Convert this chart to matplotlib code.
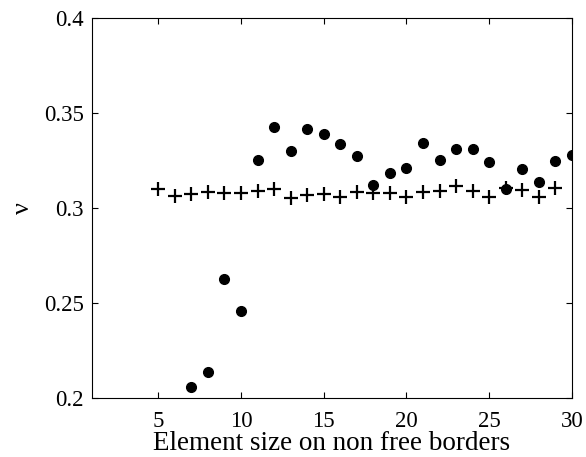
import matplotlib
matplotlib.use("Agg")
import matplotlib.pyplot as plt

plt.rcParams['font.family'] = ['Liberation Serif', 'DejaVu Serif']

cross_x = list(range(5, 30))
cross_y = [0.3098, 0.3065, 0.3072, 0.3084, 0.3077, 0.3077, 0.3088, 0.3098, 0.3051,
           0.3068, 0.3075, 0.3060, 0.3086, 0.3077, 0.3079, 0.3060, 0.3084, 0.3091,
           0.3114, 0.3091, 0.3060, 0.3105, 0.3095, 0.3060, 0.3105]
dot_x = list(range(7, 31))
dot_y = [0.2058, 0.2135, 0.2625, 0.2458, 0.3254, 0.3425, 0.3298, 0.3417, 0.3389,
         0.3335, 0.3274, 0.3123, 0.3184, 0.3212, 0.3340, 0.3254, 0.3309, 0.3309,
         0.3244, 0.3100, 0.3205, 0.3135, 0.3249, 0.3281]
x_ticks = [5, 10, 15, 20, 25, 30]
y_ticks = [0.2, 0.25, 0.3, 0.35, 0.4]
y_tick_labels = ['0.2', '0.25', '0.3', '0.35', '0.4']

fig = plt.figure(figsize=(5.86, 4.57), dpi=100)
ax = fig.add_axes([92/586, 1-398/457, 480/586, 380/457])
ax.plot(cross_x, cross_y, linestyle='none', marker='+', color='black',
        markersize=10, markeredgewidth=1.6)
ax.plot(dot_x, dot_y, linestyle='none', marker='o', color='black',
        markersize=7)
ax.set_xlim(1, 30)
ax.set_ylim(0.2, 0.4)
ax.set_xticks(x_ticks)
ax.set_xticklabels([str(t) for t in x_ticks])
ax.set_yticks(y_ticks)
ax.set_yticklabels(y_tick_labels)
ax.tick_params(direction='in', top=True, right=True, labelsize=16.5, length=4)
ax.tick_params(axis='x', pad=9.5)
ax.tick_params(axis='y', pad=6)
ax.set_xlabel('Element size on non free borders', fontsize=19.5, labelpad=-0.5)
ax.set_ylabel('ν', fontsize=19, labelpad=7)
for s in ax.spines.values():
    s.set_linewidth(0.8)
fig.savefig('out.png', dpi=100)
